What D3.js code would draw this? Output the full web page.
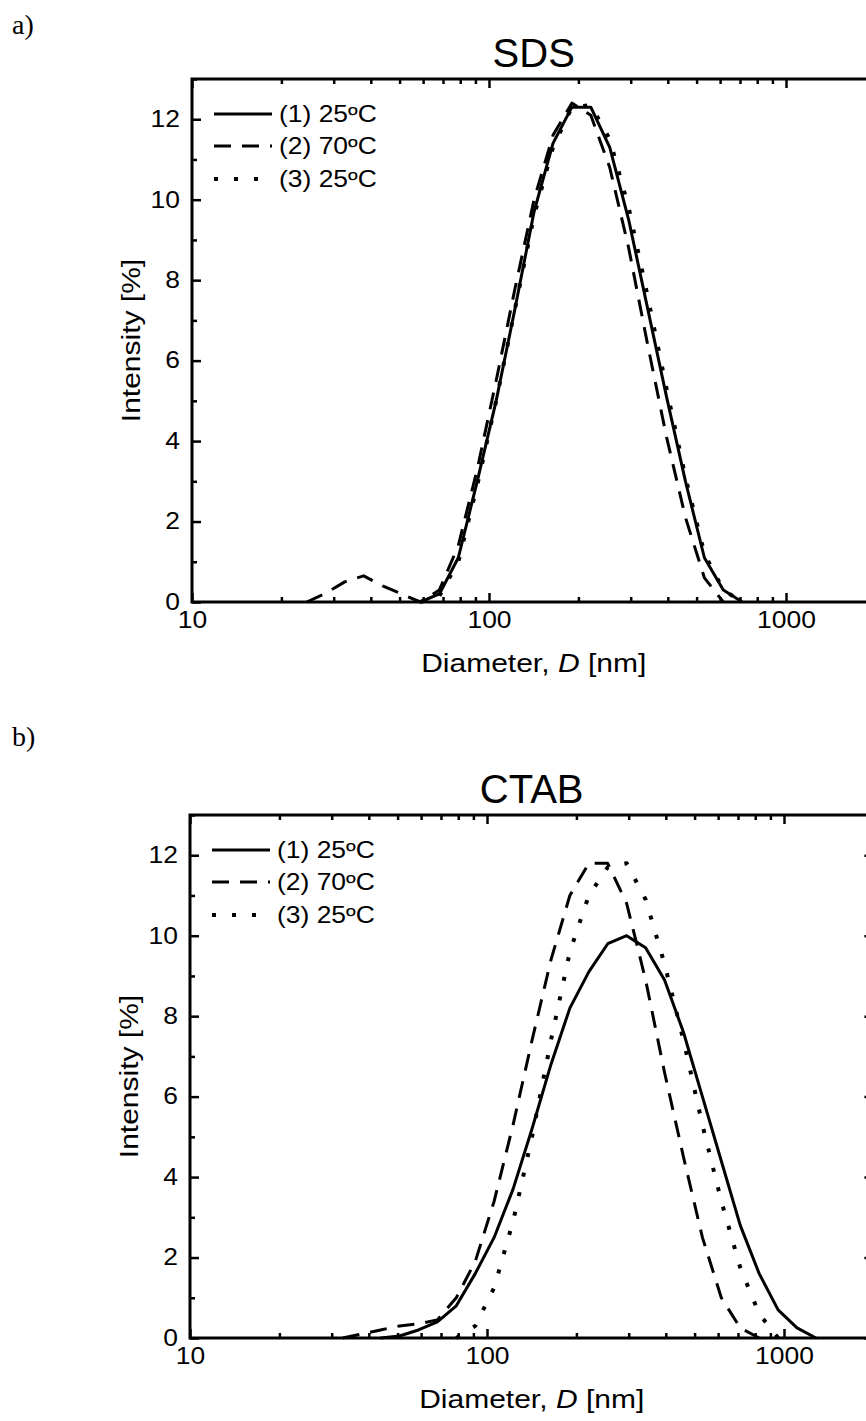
<!DOCTYPE html>
<html>
<head>
<meta charset="utf-8">
<script src="https://cdn.jsdelivr.net/npm/d3@7"></script>
<style>
  body { margin: 0; background: #fff; }
  text { font-family: "Liberation Sans", Arial, sans-serif; fill: #000; }
  text.tag { font-family: "Liberation Serif", "Times New Roman", serif; }
</style>
</head>
<body>
<svg width="866" height="1421"></svg>
<script>
// DLS size bins (nm), same for every run
const sizeBins = [24.36, 28.21, 32.67, 37.84, 43.82, 50.75, 58.77, 68.06, 78.82, 91.28,
                  105.7, 122.4, 141.8, 164.2, 190.1, 220.2, 255.0, 295.3, 342.0, 396.1,
                  458.7, 531.2, 615.1, 712.4, 825.0, 955.4, 1106, 1281];

// SDS, intensity % per bin (null = not plotted)
const sdsRun1 = [null, null, null, null, null, null, 0, 0.2, 1.1, 3.0,
                 5.0, 7.3, 9.7, 11.4, 12.3, 12.3, 11.3, 9.5, 7.3, 5.1,
                 3.0, 1.1, 0.3, 0, null, null, null, null];
const sdsRun2 = [0, 0.22, 0.5, 0.65, 0.4, 0.2, 0, 0.3, 1.4, 3.3,
                 5.5, 7.8, 10.0, 11.6, 12.4, 12.1, 10.8, 8.8, 6.4, 4.1,
                 2.1, 0.6, 0, null, null, null, null, null];
const sdsRun3 = [null, null, null, null, null, null, 0, 0.15, 1.0, 2.9,
                 5.0, 7.3, 9.6, 11.3, 12.3, 12.35, 11.5, 9.8, 7.6, 5.3,
                 3.1, 1.2, 0.3, 0, null, null, null, null];

// CTAB
const ctabRun1 = [null, null, null, null, 0, 0.05, 0.2, 0.4, 0.8, 1.6,
                  2.5, 3.7, 5.2, 6.8, 8.2, 9.1, 9.8, 10.0, 9.7, 8.9,
                  7.6, 6.0, 4.4, 2.8, 1.6, 0.7, 0.25, 0];
const ctabRun2 = [null, null, 0, 0.1, 0.2, 0.3, 0.35, 0.45, 1.0, 1.9,
                  3.4, 5.3, 7.4, 9.4, 11.0, 11.8, 11.8, 10.8, 8.9, 6.6,
                  4.5, 2.5, 1.0, 0.25, 0, null, null, null];
const ctabRun3 = [null, null, null, null, null, null, null, null, 0, 0.3,
                  1.25, 2.9, 5.0, 7.4, 9.6, 11.0, 11.7, 11.8, 10.9, 9.3,
                  7.4, 5.3, 3.4, 1.75, 0.6, 0, null, null];

const legendLabels = ["(1) 25ºC", "(2) 70ºC", "(3) 25ºC"];
const majorX = [10, 100, 1000];
const minorX = [20, 30, 40, 50, 60, 70, 80, 90, 200, 300, 400, 500, 600, 700, 800, 900, 2000];
const majorY = [0, 2, 4, 6, 8, 10, 12];
const minorY = [1, 3, 5, 7, 9, 11, 13];
const dashes = [null, "17,11", "4,16"];

const svg = d3.select("svg");
svg.append("rect").attr("width", 866).attr("height", 1421).attr("fill", "#fff");

// text in the figure runs wider than Arial, so stretch it along the baseline
function stretch(sel, sx) {
  sel.each(function () {
    const t = d3.select(this);
    const x = +t.attr("x") || 0, y = +t.attr("y") || 0;
    t.attr("x", null).attr("y", null)
      .attr("transform", `translate(${x},${y}) scale(${sx},1)`);
  });
}

function drawPanel(p) {
  const x = d3.scaleLog().domain([10, 2000]).range([p.left, p.left + 297 * Math.log10(200)]);
  const y = d3.scaleLinear().domain([0, 13]).range([p.bottom, p.top]);
  const right = x.range()[1];
  const g = svg.append("g");

  // ticks, all pointing inward
  const tickSets = [
    [d3.axisBottom(x).tickValues(majorX).tickSizeInner(-9).tickPadding(10).tickFormat(d3.format("d")), `translate(0,${p.bottom})`, true],
    [d3.axisBottom(x).tickValues(minorX).tickSizeInner(-5).tickFormat(""), `translate(0,${p.bottom})`],
    [d3.axisTop(x).tickValues(majorX).tickSizeInner(-9).tickFormat(""), `translate(0,${p.top})`],
    [d3.axisTop(x).tickValues(minorX).tickSizeInner(-5).tickFormat(""), `translate(0,${p.top})`],
    [d3.axisLeft(y).tickValues(majorY).tickSizeInner(-9).tickPadding(12).tickFormat(d3.format("d")), `translate(${p.left},0)`, true],
    [d3.axisLeft(y).tickValues(minorY).tickSizeInner(-5).tickFormat(""), `translate(${p.left},0)`],
    [d3.axisRight(y).tickValues(majorY).tickSizeInner(-9).tickFormat(""), `translate(${right},0)`],
    [d3.axisRight(y).tickValues(minorY).tickSizeInner(-5).tickFormat(""), `translate(${right},0)`]
  ];
  tickSets.forEach(([axis, tr, labels]) => {
    const a = g.append("g").attr("transform", tr).call(axis.tickSizeOuter(0));
    a.select(".domain").remove();
    a.selectAll("line").attr("stroke", "#000").attr("stroke-width", 2.5);
    a.selectAll("text").attr("font-size", 23).attr("font-family", null).attr("fill", "#000");
    if (labels) stretch(a.selectAll("text"), 1.15);
  });

  g.append("rect")
    .attr("x", p.left).attr("y", p.top)
    .attr("width", right - p.left).attr("height", p.bottom - p.top)
    .attr("fill", "none").attr("stroke", "#000").attr("stroke-width", 3);

  const line = d3.line()
    .defined(d => d[1] !== null)
    .x(d => x(d[0])).y(d => y(d[1]));

  p.series.forEach((vals, i) => {
    g.append("path")
      .datum(sizeBins.map((s, j) => [s, vals[j]]))
      .attr("d", line)
      .attr("fill", "none").attr("stroke", "#000")
      .attr("stroke-width", i === 2 ? 4 : 3)
      .attr("stroke-linejoin", "round")
      .attr("stroke-dasharray", dashes[i]);
  });

  // legend
  const legRows = [35, 67, 100];
  legendLabels.forEach((lab, i) => {
    const ly = p.top + legRows[i];
    g.append("line")
      .attr("x1", p.left + 22).attr("x2", p.left + 80)
      .attr("y1", ly).attr("y2", ly)
      .attr("stroke", "#000").attr("stroke-width", i === 2 ? 4 : 3)
      .attr("stroke-dasharray", dashes[i]);
    const t = g.append("text")
      .attr("x", p.left + 87).attr("y", ly).attr("dy", "0.36em")
      .attr("font-size", 23).text(lab);
    stretch(t, 1.15);
  });

  g.append("text")
    .attr("x", (p.left + right) / 2).attr("y", p.top - 12)
    .attr("text-anchor", "middle").attr("font-size", 40)
    .text(p.title);

  const xl = g.append("text")
    .attr("x", (p.left + right) / 2).attr("y", p.bottom + 70)
    .attr("text-anchor", "middle").attr("font-size", 25);
  xl.append("tspan").text("Diameter, ");
  xl.append("tspan").attr("font-style", "italic").text("D");
  xl.append("tspan").text(" [nm]");
  stretch(xl, 1.2);

  g.append("text")
    .attr("transform", `translate(${p.left - 52},${(p.top + p.bottom) / 2}) rotate(-90) scale(1.2,1)`)
    .attr("text-anchor", "middle").attr("font-size", 25)
    .text("Intensity [%]");

  svg.append("text")
    .attr("class", "tag")
    .attr("x", 12).attr("y", p.tagY)
    .attr("font-size", 28).text(p.tag);
}

drawPanel({ left: 192, top: 79, bottom: 602, title: "SDS", tag: "a)", tagY: 34,
            series: [sdsRun1, sdsRun2, sdsRun3] });
drawPanel({ left: 190, top: 815, bottom: 1338, title: "CTAB", tag: "b)", tagY: 746,
            series: [ctabRun1, ctabRun2, ctabRun3] });
</script>
</body>
</html>
